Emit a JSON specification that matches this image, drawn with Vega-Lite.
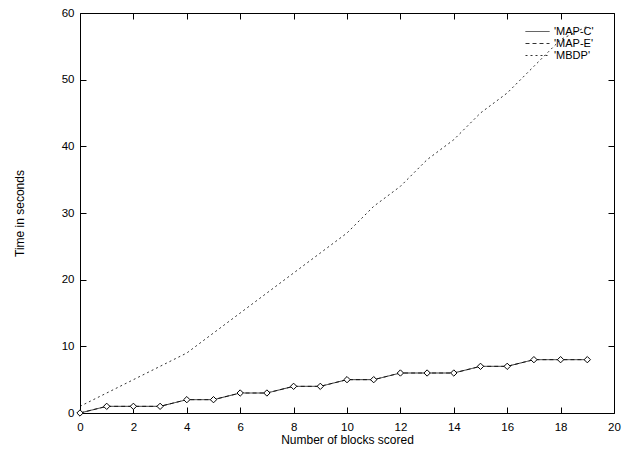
{
  "$schema": "https://vega.github.io/schema/vega-lite/v6.json",
  "width": 534,
  "height": 400,
  "autosize": {"type": "none"},
  "padding": {"left": 80, "top": 13, "right": 26, "bottom": 38},
  "background": "white",
  "config": {
    "font": "Liberation Sans",
    "view": {"stroke": "black", "strokeWidth": 1},
    "axis": {
      "domain": false,
      "grid": false,
      "tickColor": "black",
      "tickSize": -6,
      "tickWidth": 1,
      "labelFontSize": 11.5,
      "labelColor": "black",
      "titleFontSize": 12,
      "titleFontWeight": "normal",
      "titleColor": "black"
    }
  },
  "data": {
    "values": [
      {"blocks": 0, "time": 0, "series": "MAP-C"},
      {"blocks": 1, "time": 1, "series": "MAP-C"},
      {"blocks": 2, "time": 1, "series": "MAP-C"},
      {"blocks": 3, "time": 1, "series": "MAP-C"},
      {"blocks": 4, "time": 2, "series": "MAP-C"},
      {"blocks": 5, "time": 2, "series": "MAP-C"},
      {"blocks": 6, "time": 3, "series": "MAP-C"},
      {"blocks": 7, "time": 3, "series": "MAP-C"},
      {"blocks": 8, "time": 4, "series": "MAP-C"},
      {"blocks": 9, "time": 4, "series": "MAP-C"},
      {"blocks": 10, "time": 5, "series": "MAP-C"},
      {"blocks": 11, "time": 5, "series": "MAP-C"},
      {"blocks": 12, "time": 6, "series": "MAP-C"},
      {"blocks": 13, "time": 6, "series": "MAP-C"},
      {"blocks": 14, "time": 6, "series": "MAP-C"},
      {"blocks": 15, "time": 7, "series": "MAP-C"},
      {"blocks": 16, "time": 7, "series": "MAP-C"},
      {"blocks": 17, "time": 8, "series": "MAP-C"},
      {"blocks": 18, "time": 8, "series": "MAP-C"},
      {"blocks": 19, "time": 8, "series": "MAP-C"},
      {"blocks": 0, "time": 0, "series": "MAP-E"},
      {"blocks": 1, "time": 1, "series": "MAP-E"},
      {"blocks": 2, "time": 1, "series": "MAP-E"},
      {"blocks": 3, "time": 1, "series": "MAP-E"},
      {"blocks": 4, "time": 2, "series": "MAP-E"},
      {"blocks": 5, "time": 2, "series": "MAP-E"},
      {"blocks": 6, "time": 3, "series": "MAP-E"},
      {"blocks": 7, "time": 3, "series": "MAP-E"},
      {"blocks": 8, "time": 4, "series": "MAP-E"},
      {"blocks": 9, "time": 4, "series": "MAP-E"},
      {"blocks": 10, "time": 5, "series": "MAP-E"},
      {"blocks": 11, "time": 5, "series": "MAP-E"},
      {"blocks": 12, "time": 6, "series": "MAP-E"},
      {"blocks": 13, "time": 6, "series": "MAP-E"},
      {"blocks": 14, "time": 6, "series": "MAP-E"},
      {"blocks": 15, "time": 7, "series": "MAP-E"},
      {"blocks": 16, "time": 7, "series": "MAP-E"},
      {"blocks": 17, "time": 8, "series": "MAP-E"},
      {"blocks": 18, "time": 8, "series": "MAP-E"},
      {"blocks": 19, "time": 8, "series": "MAP-E"},
      {"blocks": 0, "time": 1, "series": "MBDP"},
      {"blocks": 1, "time": 3, "series": "MBDP"},
      {"blocks": 2, "time": 5, "series": "MBDP"},
      {"blocks": 3, "time": 7, "series": "MBDP"},
      {"blocks": 4, "time": 9, "series": "MBDP"},
      {"blocks": 5, "time": 12, "series": "MBDP"},
      {"blocks": 6, "time": 15, "series": "MBDP"},
      {"blocks": 7, "time": 18, "series": "MBDP"},
      {"blocks": 8, "time": 21, "series": "MBDP"},
      {"blocks": 9, "time": 24, "series": "MBDP"},
      {"blocks": 10, "time": 27, "series": "MBDP"},
      {"blocks": 11, "time": 31, "series": "MBDP"},
      {"blocks": 12, "time": 34, "series": "MBDP"},
      {"blocks": 13, "time": 38, "series": "MBDP"},
      {"blocks": 14, "time": 41, "series": "MBDP"},
      {"blocks": 15, "time": 45, "series": "MBDP"},
      {"blocks": 16, "time": 48, "series": "MBDP"},
      {"blocks": 17, "time": 52, "series": "MBDP"},
      {"blocks": 18, "time": 56, "series": "MBDP"},
      {"blocks": 19, "time": 58, "series": "MBDP"}
    ]
  },
  "layer": [
    {
      "mark": {"type": "line", "color": "black", "strokeWidth": 1, "opacity": 0.8},
      "encoding": {
        "x": {
          "field": "blocks", "type": "quantitative",
          "scale": {"domain": [0, 20], "nice": false},
          "axis": {"title": "Number of blocks scored", "values": [0,2,4,6,8,10,12,14,16,18,20], "labelPadding": 14, "titlePadding": 2, "labelFlush": false}
        },
        "y": {
          "field": "time", "type": "quantitative",
          "scale": {"domain": [0, 60], "nice": false},
          "axis": {"title": "Time in seconds", "values": [0,10,20,30,40,50,60], "labelPadding": 12, "titlePadding": 35, "labelFlush": false}
        },
        "strokeDash": {
          "field": "series", "type": "nominal",
          "scale": {"domain": ["MAP-C", "MAP-E", "MBDP"], "range": [[1, 0], [4, 3], [2, 3]]},
          "legend": {
            "title": null,
            "orient": "none",
            "legendX": 451,
            "legendY": 12,
            "padding": 0,
            "rowPadding": -5,
            "symbolType": "M-2,0H2",
            "symbolSize": 144,
            "symbolStrokeColor": "black",
            "symbolStrokeWidth": 1,
            "labelFontSize": 11,
            "labelOffset": 10,
            "labelColor": "black",
            "labelExpr": "\"'\" + datum.label + \"'\""
          }
        }
      }
    },
    {
      "transform": [{"filter": "datum.series === 'MAP-E'"}],
      "mark": {"type": "point", "shape": "diamond", "filled": true, "fill": "white", "stroke": "black", "strokeWidth": 1, "size": 40, "opacity": 1},
      "encoding": {
        "x": {"field": "blocks", "type": "quantitative", "axis": null},
        "y": {"field": "time", "type": "quantitative", "axis": null}
      }
    },
    {
      "mark": {"type": "point", "opacity": 0},
      "encoding": {
        "x": {"field": "blocks", "type": "quantitative", "axis": {"orient": "top", "labels": false, "title": null, "values": [0,2,4,6,8,10,12,14,16,18,20]}},
        "y": {"field": "time", "type": "quantitative", "axis": {"orient": "right", "labels": false, "title": null, "values": [0,10,20,30,40,50,60]}}
      }
    }
  ],
  "resolve": {"axis": {"x": "independent", "y": "independent"}}
}
